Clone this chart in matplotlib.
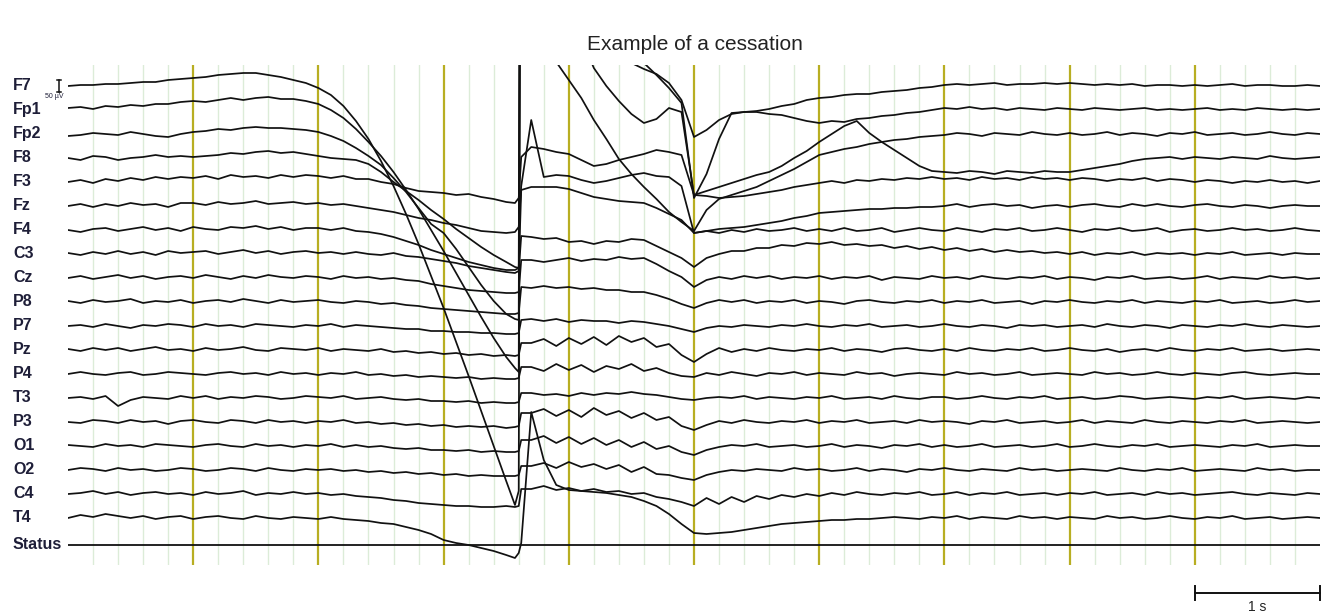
import numpy as np
import matplotlib.pyplot as plt

# sample times in seconds (0.1 s steps, plus the reset moment near 3.6 s)
TIME = np.concatenate([np.arange(36) / 10, [3.57, 3.60, 3.62], 3.7 + np.arange(64) / 10])

channels = ['F7', 'Fp1', 'Fp2', 'F8', 'F3', 'Fz', 'F4', 'C3', 'Cz', 'P8',
            'P7', 'Pz', 'P4', 'T3', 'P3', 'O1', 'O2', 'C4', 'T4']

# deflection of each trace (display units, 12 units = 50 uV, up is positive)
f7 = [0, 1, 1, 2, 2, 3, 4, 4, 6, 7,
      8, 9, 11, 12, 13, 13, 11, 9, 6, 3,
      -2, -9, -20, -35, -53, -75, -100, -128, -158, -190,
      -222, -256, -290, -325, -360, -395, -419, -405, 600,
      500, 400, 300, 200, 130, 80, 50, 33, 23, 17, 12, 3, -14,
      -51, -44, -34, -28, -26, -25, -23, -20, -18, -14,
      -12, -11, -9, -8, -8, -6, -5, -4, -2, -1,
      1, 2, 1, 2, 3, 1, 2, 2, 3, 2,
      3, 2, 1, 2, 1, 2, 0, 1, 1, 0,
      1, 0, 1, 2, 0, 1, 1, 0, 0, 1, 0]
fp1 = [2, 3, 1, 4, 3, 5, 4, 6, 6, 8,
       9, 8, 10, 12, 10, 12, 13, 11, 11, 9,
       6, 0, -8, -19, -32, -46, -62, -80, -99, -120,
       -141, -163, -185, -207, -228, -247, -258, -262, 600,
       600, 500, 400, 300, 200, 140, 100, 70, 52, 47, 35, 22, 7,
       -88, -64, -29, -3, -2, -2, -4, -5, -8, -11,
       -13, -11, -12, -9, -8, -6, -5, -3, -2, 0,
       2, 1, 3, 1, 2, 0, 2, 1, 0, 2,
       1, 0, 2, 1, 0, 1, 2, 0, 1, 0,
       1, 2, 0, 1, 0, 2, 1, 0, 1, 0, 1]
fp2 = [-2, -1, 1, 0, -1, 2, 0, -2, -3, 0,
       2, 3, 5, 4, 6, 7, 6, 6, 5, 4,
       2, -2, -7, -14, -22, -31, -44, -58, -74, -90,
       -99, -115, -133, -151, -167, -180, -185, -186, 600,
       300, 150, 72, 54, 36, 14, -5, -25, -40, -53, -65, -78, -88,
       -97, -76, -65, -61, -57, -53, -47, -41, -35, -28,
       -21, -18, -15, -13, -10, -8, -6, -5, -3, -2,
       -1, 1, 0, -2, 1, 0, -1, 2, 0, -1,
       1, -1, 0, 2, -1, 1, 0, -2, 1, 0,
       2, -1, 0, 1, -1, 0, 2, 0, -1, 1, 0]
f8 = [0, -2, 2, 1, -2, 0, 1, 3, 1, 2,
      1, 2, 3, 5, 4, 6, 7, 5, 6, 4,
      2, 0, -1, -2, -6, -14, -24, -33, -42, -52,
      -61, -71, -80, -89, -97, -104, -109, -110, 600,
      450, 350, 260, 180, 120, 90, 72, 57, 44, 35, 39, 50, 46,
      -37, -33, -29, -25, -21, -17, -14, -8, 0, 7,
      16, 24, 32, 37, 25, 16, 8, 0, -8, -13,
      -14, -15, -13, -14, -16, -13, -14, -15, -13, -14,
      -14, -12, -10, -8, -6, -3, -1, 0, 1, -1,
      1, 0, -1, 1, 0, -1, 2, 0, -1, 0, 1]
f3 = [0, 2, -1, 3, 1, 4, 2, 5, 3, 5,
      4, 6, 3, 7, 5, 6, 4, 7, 5, 7,
      6, 4, 6, 3, 3, 0, -2, -6, -9, -10,
      -11, -13, -12, -15, -17, -20, -21, -16, 25,
      35, 33, 30, 28, 22, 16, 18, 22, 25, 28, 32, 30, 27,
      -13, -14, -16, -15, -14, -12, -10, -8, -5, -3,
      -1, 1, -1, 2, 1, 3, 2, 4, 3, 5,
      3, 4, 2, 5, 3, 4, 2, 5, 3, 4,
      2, 4, 3, 1, 3, 2, 4, 1, 3, 2,
      0, 2, 1, -1, 1, 0, 2, 0, 1, -1, 1]
fz = [0, 2, -1, 2, 0, 3, 1, 2, -1, 3,
      3, 1, 4, 2, 3, 5, 2, 3, 4, 2,
      3, 1, 2, 0, -2, -4, -6, -9, -12, -14,
      -17, -19, -22, -25, -26, -27, -26, -21, 20,
      86, 29, 31, 30, 26, 23, 25, 28, 31, 33, 30, 29, 20,
      -27, -25, -23, -22, -21, -19, -17, -15, -12, -10,
      -7, -6, -5, -4, -3, -3, -2, -2, -1, -1,
      0, 2, -1, 1, 2, 0, 1, -2, 0, 1,
      -1, 1, 2, 0, -1, 2, 0, 2, 0, -1,
      1, 2, 0, -1, 1, 0, -2, 0, 1, 0, 0]
f4 = [0, -2, 1, 2, -1, 1, 3, 0, 2, -1,
      3, 1, 0, 3, 2, 4, 1, 3, 0, 2,
      2, 0, 2, -1, -2, -4, -7, -11, -15, -20,
      -24, -28, -32, -35, -38, -40, -40, -38, 40,
      43, 43, 43, 41, 37, 33, 31, 29, 28, 27, 22, 16, 10,
      -3, -1, -3, 0, -2, 1, -1, 0, 2, -1,
      1, -1, 2, -1, 0, 2, -2, 0, 2, 0,
      -1, 2, 0, -2, 1, 0, 2, -1, 0, 2,
      0, -2, 1, 0, 2, -1, 0, 2, -2, 0,
      1, -1, 0, 2, 0, 1, -1, 0, 2, 0, -1]
c3 = [1, -1, 2, 0, 3, 0, 2, -1, 3, 1,
      2, 3, 0, 2, 4, 1, 3, 0, 2, 3,
      1, 2, 0, 2, 0, -1, 1, -2, -3, -5,
      -7, -9, -12, -14, -16, -18, -19, -17, 18,
      17, 15, 16, 12, 13, 10, 13, 12, 15, 14, 8, 2, -4,
      -13, -4, 0, 3, 3, 6, 6, 9, 8, 11,
      10, 12, 9, 10, 8, 9, 6, 8, 5, 7,
      4, 6, 3, 5, 2, 4, 2, 3, 1, 2,
      0, 2, -1, 1, 0, 2, -1, 1, 0, 1,
      -1, 1, 0, 2, -1, 0, 1, -1, 1, 0, 0]
cz = [0, 2, -1, 1, 3, 0, 2, -1, 1, 2,
      0, 3, 1, -1, 2, 0, 3, 1, 0, 2,
      1, -1, 2, 0, 1, -1, 0, -2, -3, -6,
      -8, -10, -12, -13, -14, -15, -15, -14, 18,
      18, 16, 18, 20, 17, 19, 18, 21, 19, 20, 14, 7, 1,
      -9, -2, 1, -1, 2, 0, 2, -1, 1, 0,
      2, -1, 1, 0, 2, -2, 1, 0, -1, 2,
      0, 1, -1, 2, 0, -1, 1, 0, 2, -1,
      1, 0, -2, 1, 0, 2, -1, 0, 1, -1,
      0, 2, -1, 1, 0, -1, 2, 0, 1, -1, 0]
p8 = [1, -1, 2, 0, 1, 3, -1, 1, 0, 2,
      -1, 1, 2, 0, 3, 1, -1, 2, 0, 1,
      2, 0, -1, 1, 0, -2, -1, -3, -4, -6,
      -7, -8, -9, -10, -11, -12, -12, -11, 15,
      14, 16, 14, 15, 13, 14, 12, 12, 10, 10, 7, 3, -2,
      -6, -1, 2, 0, 2, -1, 1, 0, 2, -1,
      1, 0, -2, 1, 2, 0, -1, 1, 0, 2,
      -1, 1, 0, 2, -1, 0, 1, -2, 1, 0,
      2, 0, -1, 1, 0, 2, -1, 1, 0, -1,
      1, 0, 2, -1, 0, 1, -1, 0, 2, 0, 1]
p7 = [0, 1, -1, 2, 0, -2, 1, 0, 2, 1,
      -1, 2, 0, 1, -1, 2, 1, 0, -1, 1,
      0, 2, -1, 1, 0, -1, -2, -3, -3, -5,
      -5, -6, -6, -7, -7, -8, -8, -7, 6,
      7, 5, 7, 4, 6, 5, 5, 3, 5, 4, 2, 0, -3,
      -6, -2, 0, -1, 1, 0, -1, 1, 0, 2,
      0, -1, 1, 0, 2, -1, 0, 1, -1, 0,
      2, 0, -1, 1, 0, -2, 1, 0, 1, -1,
      0, 1, -1, 2, 0, -1, 1, 0, -2, 1,
      0, -1, 1, 0, 2, 0, -1, 1, 0, -1, 0]
pz = [1, -1, 2, 0, 2, -1, 1, 3, 0, 1,
      -1, 2, 0, 1, 3, 0, -1, 2, 1, 0,
      2, -1, 1, 0, -1, 1, -2, -1, -3, -2,
      -4, -3, -5, -4, -6, -5, -6, -5, 7,
      7, 11, 4, 12, 6, 13, 5, 14, 8, 12, 3, 6, -5,
      -12, -4, 2, -2, 1, -1, 2, 0, -1, 1,
      0, 2, -1, 1, 0, -2, 1, 2, 0, -1,
      1, -1, 2, 0, -1, 1, 0, 2, -1, 0,
      2, 0, -1, 1, -2, 0, 1, -1, 2, 0,
      -1, 1, 0, 2, -1, 0, 1, -1, 0, 1, 0]
p4 = [0, 2, 0, -1, 1, 2, -1, 0, 2, 1,
      0, -1, 1, 2, 0, 1, -1, 2, 0, 1,
      -1, 1, 0, 2, -1, 0, -2, -1, -3, -2,
      -3, -4, -3, -5, -4, -5, -5, -4, 7,
      7, 3, 10, 4, 9, 2, 8, 5, 10, 3, 6, 1, -2,
      -3, 1, -1, 2, 0, -2, 1, 0, 2, -1,
      1, 0, -1, 2, 0, 1, -2, 0, 1, 0,
      -1, 2, 0, 1, -1, 0, 2, -1, 0, 1,
      0, -1, 2, 0, 1, -1, 0, 2, 0, -1,
      1, 0, -1, 1, 2, 0, -1, 0, 1, 0, 0]
t3 = [0, 1, -1, 2, -8, -2, 1, 0, -1, 2,
      0, 2, -1, 1, 0, 2, 1, -1, 0, 2,
      1, 0, 2, -1, 0, 1, -1, -2, -1, -3,
      -3, -4, -3, -5, -4, -5, -5, -4, 5,
      5, 3, 4, 2, 5, 3, 5, 4, 6, 4, 3, 1, -1,
      -2, 0, 1, 0, 2, -1, 1, 0, -1, 1,
      0, 2, -1, 0, 1, -1, 2, 0, -1, 1,
      1, -1, 0, 2, 0, -1, 1, 0, 2, -1,
      0, 1, -1, 0, 2, 1, -1, 0, 1, 0,
      -1, 1, 0, 2, -1, 0, 1, 0, -1, 1, 0]
p3 = [0, -1, 2, 1, -1, 2, 0, 1, -2, 1,
      2, 0, -1, 2, 1, -1, 2, 0, 1, -1,
      1, 0, 2, -1, 0, -2, -1, -3, -2, -4,
      -3, -5, -4, -5, -4, -6, -5, -4, 9,
      9, 13, 6, 12, 5, 14, 7, 11, 4, 9, 2, 5, -4,
      -8, -3, 1, -1, 2, 0, -1, 1, 0, 2,
      -1, 1, 0, 2, -1, 0, 1, -1, 2, 0,
      1, 0, -2, 1, 0, 2, -1, 0, 1, -1,
      0, 2, -1, 1, 0, -1, 2, 0, -1, 1,
      0, -1, 1, 0, 2, -1, 0, 1, 0, -1, 0]
o1 = [1, 0, -1, 2, 0, 1, -1, 2, 1, 0,
      -1, 1, 2, 0, -1, 2, 0, 1, -1, 1,
      0, 2, -1, 1, -1, 0, -2, -3, -2, -4,
      -4, -5, -4, -6, -5, -6, -6, -5, 6,
      6, 10, 3, 9, 2, 8, 1, 6, -1, 4, -3, 0, -6,
      -9, -4, -1, 1, 0, 2, -1, 0, 1, -1,
      0, 2, -1, 1, 0, -2, 1, 0, 2, -1,
      1, -1, 0, 2, -1, 0, 1, -1, 0, 2,
      -1, 0, 2, 0, -1, 1, 0, 2, -1, 0,
      1, 0, -1, 1, 0, 2, -1, 0, 1, 0, 0]
o2 = [0, 2, 1, -1, 2, 0, 1, -1, 0, 2,
      1, -1, 0, 2, 1, -1, 2, 0, -1, 1,
      0, 1, -1, 0, -2, -1, -3, -2, -4, -3,
      -5, -4, -6, -5, -6, -6, -6, -5, 4,
      4, 7, 2, 8, 3, 6, 1, 5, -2, 3, -4, -5, -8,
      -10, -5, -2, 0, -1, 1, 0, -1, 2, 0,
      1, -1, 0, 2, -1, 1, 0, -2, 1, 0,
      2, 0, -1, 1, 0, -1, 2, 0, 1, -1,
      0, 1, 0, -1, 2, 0, -1, 1, 0, 2,
      -1, 0, 1, 0, -1, 2, 0, 1, -1, 0, 0]
c4 = [0, 1, 3, 0, 2, -1, 1, 2, 0, 1,
      -1, 2, 0, 1, 3, -1, 1, 0, 2, 0,
      1, -1, 0, -2, -3, -4, -6, -7, -9, -10,
      -11, -12, -12, -13, -13, -12, -13, -12, 5,
      5, 8, 4, 6, 3, 5, 2, 3, 0, 1, -3, -5, -8,
      -12, -4, -10, -3, -8, -2, -5, -1, -3, 0,
      -2, 1, -1, 2, 0, -1, 1, 0, 2, -1,
      0, 2, -1, 1, 0, 2, -1, 0, 1, -1,
      1, 0, 2, -1, 0, 1, -1, 2, 0, 1,
      -1, 0, 1, 2, 0, -1, 1, 0, -1, 1, 0]
t4 = [0, 3, 1, 4, 2, 0, 2, -1, 1, 2,
      -1, 1, 2, 0, -1, 2, 0, -1, 1, 0,
      -1, 1, -1, -2, -3, -5, -6, -9, -12, -16,
      -22, -25, -27, -30, -33, -37, -40, -35, -25,
      106, 58, 33, 28, 27, 26, 25, 23, 21, 17, 12, 4, -6,
      -15, -16, -15, -14, -12, -10, -8, -6, -5, -4,
      -3, -2, -2, -1, -1, 0, 1, 0, -1, 1,
      0, 2, -1, 1, 0, -1, 2, 0, 1, -1,
      1, 0, -1, 2, 0, 1, -1, 0, 2, 0,
      -1, 1, 0, 2, -1, 0, 1, -1, 0, 1, 0]

traces = [f7, fp1, fp2, f8, f3, fz, f4, c3, cz, p8,
          p7, pz, p4, t3, p3, o1, o2, c4, t4]

W, H = 1325, 614
fig = plt.figure(figsize=(W / 100, H / 100), dpi=100)
fig.patch.set_facecolor('white')

# axes in reference pixel rows, x in seconds
ax = fig.add_axes([68 / W, (H - 565) / H, 1252 / W, 500 / H])
ax.set_xlim(0, 10)
ax.set_ylim(565, 65)
ax.axis('off')

# 0.2 s grid and 1 s markers
for k in range(1, 50):
    if k % 5 == 0:
        ax.axvline(k / 5, color='#b8ae22', lw=1.6, zorder=1)
    else:
        ax.axvline(k / 5, color='#dcecd8', lw=1.0, zorder=0)

label_col = '#1e1e38'
for i, (name, vals) in enumerate(zip(channels, traces)):
    assert len(vals) == len(TIME), name
    base = 86 + 24 * i
    ax.plot(TIME, base - np.array(vals), color='#111111', lw=1.25, zorder=3)
    ax.text(-0.44, base, name, ha='left', va='center', fontsize=11.5,
            fontweight='bold', color=label_col, family='Liberation Sans',
            clip_on=False)

# status channel
ax.plot([0, 10], [545, 545], color='#111111', lw=1.3, zorder=3)
ax.text(-0.44, 545, 'Status', ha='left', va='center', fontsize=11.5,
        fontweight='bold', color=label_col, family='Liberation Sans',
        clip_on=False)

# amplitude marker (50 uV)
ax.plot([-0.072, -0.072], [80, 92], color='#111111', lw=1.1, clip_on=False)
ax.plot([-0.09, -0.054], [80, 80], color='#111111', lw=1.1, clip_on=False)
ax.plot([-0.09, -0.054], [92, 92], color='#111111', lw=1.1, clip_on=False)
ax.text(-0.18, 97, '50 µV', ha='left', va='center', fontsize=5,
        color=label_col, family='Liberation Sans', clip_on=False)

# 1 s time scale
ax.plot([9, 10], [593, 593], color='#111111', lw=1.4, clip_on=False)
ax.plot([9, 9], [586, 600], color='#111111', lw=1.4, clip_on=False)
ax.plot([10, 10], [586, 600], color='#111111', lw=1.4, clip_on=False)
ax.text(9.5, 607, '1 s', ha='center', va='center', fontsize=10,
        color='#222222', family='Liberation Sans', clip_on=False)

fig.text(695 / W, 1 - 45 / H, 'Example of a cessation', ha='center',
         va='center', fontsize=15, color='#222222', family='Liberation Sans')

fig.savefig('out.png', dpi=100)
